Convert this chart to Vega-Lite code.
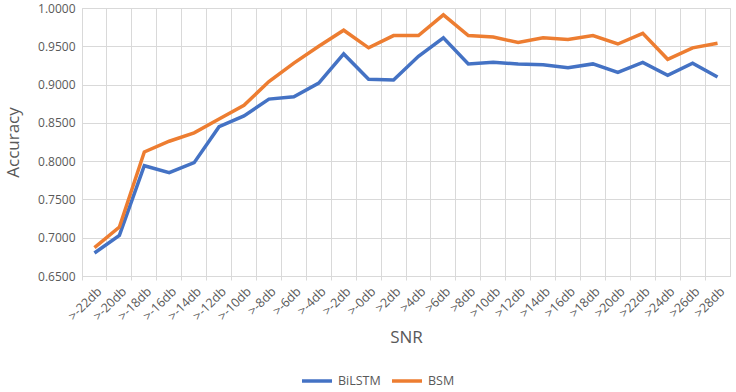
{
  "$schema": "https://vega.github.io/schema/vega-lite/v6.json",
  "width": 648,
  "height": 268,
  "autosize": {"type": "none"},
  "padding": {"left": 82, "top": 8, "right": 6, "bottom": 116},
  "background": "white",
  "config": {
    "font": "Open Sans",
    "view": {"stroke": "#d9d9d9", "strokeWidth": 1}
  },
  "datasets": {
    "acc": [
      {"snr": ">-22db", "BiLSTM": 0.680, "BSM": 0.687},
      {"snr": ">-20db", "BiLSTM": 0.703, "BSM": 0.714},
      {"snr": ">-18db", "BiLSTM": 0.794, "BSM": 0.812},
      {"snr": ">-16db", "BiLSTM": 0.785, "BSM": 0.826},
      {"snr": ">-14db", "BiLSTM": 0.798, "BSM": 0.837},
      {"snr": ">-12db", "BiLSTM": 0.845, "BSM": 0.855},
      {"snr": ">-10db", "BiLSTM": 0.859, "BSM": 0.873},
      {"snr": ">-8db", "BiLSTM": 0.881, "BSM": 0.904},
      {"snr": ">-6db", "BiLSTM": 0.884, "BSM": 0.928},
      {"snr": ">-4db", "BiLSTM": 0.902, "BSM": 0.950},
      {"snr": ">-2db", "BiLSTM": 0.940, "BSM": 0.971},
      {"snr": ">-0db", "BiLSTM": 0.907, "BSM": 0.948},
      {"snr": ">2db", "BiLSTM": 0.906, "BSM": 0.964},
      {"snr": ">4db", "BiLSTM": 0.937, "BSM": 0.964},
      {"snr": ">6db", "BiLSTM": 0.961, "BSM": 0.991},
      {"snr": ">8db", "BiLSTM": 0.927, "BSM": 0.964},
      {"snr": ">10db", "BiLSTM": 0.929, "BSM": 0.962},
      {"snr": ">12db", "BiLSTM": 0.927, "BSM": 0.955},
      {"snr": ">14db", "BiLSTM": 0.926, "BSM": 0.961},
      {"snr": ">16db", "BiLSTM": 0.922, "BSM": 0.959},
      {"snr": ">18db", "BiLSTM": 0.927, "BSM": 0.964},
      {"snr": ">20db", "BiLSTM": 0.916, "BSM": 0.953},
      {"snr": ">22db", "BiLSTM": 0.929, "BSM": 0.967},
      {"snr": ">24db", "BiLSTM": 0.912, "BSM": 0.933},
      {"snr": ">26db", "BiLSTM": 0.928, "BSM": 0.948},
      {"snr": ">28db", "BiLSTM": 0.910, "BSM": 0.954}
    ]
  },
  "data": {"name": "acc"},
  "transform": [{"fold": ["BiLSTM", "BSM"], "as": ["model", "accuracy"]}],
  "mark": {"type": "line", "strokeWidth": 3.5, "strokeJoin": "miter", "strokeCap": "butt"},
  "encoding": {
    "x": {
      "field": "snr",
      "type": "ordinal",
      "sort": null,
      "scale": {"type": "band", "paddingInner": 0, "paddingOuter": 0},
      "axis": {
        "title": "SNR",
        "titleFont": "Open Sans",
        "titleFontSize": 17,
        "titleFontWeight": "normal",
        "titleColor": "#595959",
        "titlePadding": 7,
        "bandPosition": 0,
        "labelOffset": 5,
        "labelAngle": -45,
        "labelAlign": "right",
        "labelBaseline": "middle",
        "labelFontSize": 12.5,
        "labelColor": "#595959",
        "labelPadding": 9,
        "grid": true,
        "gridColor": "#d9d9d9",
        "domainColor": "#d9d9d9",
        "tickColor": "#d9d9d9",
        "tickSize": 4
      }
    },
    "y": {
      "field": "accuracy",
      "type": "quantitative",
      "scale": {"domain": [0.65, 1.0], "zero": false, "nice": false},
      "axis": {
        "title": "Accuracy",
        "titleFontSize": 17,
        "titleFontWeight": "normal",
        "titleColor": "#595959",
        "titlePadding": 15,
        "values": [0.65, 0.7, 0.75, 0.8, 0.85, 0.9, 0.95, 1.0],
        "format": ".4f",
        "labelFontSize": 12,
        "labelColor": "#595959",
        "labelPadding": 7,
        "domain": false,
        "ticks": false,
        "gridColor": "#d9d9d9"
      }
    },
    "color": {
      "field": "model",
      "type": "nominal",
      "scale": {"domain": ["BiLSTM", "BSM"], "range": ["#4472C4", "#ED7D31"]},
      "legend": {
        "title": null,
        "orient": "none",
        "legendX": 218,
        "legendY": 356,
        "direction": "horizontal",
        "symbolType": "stroke",
        "symbolStrokeWidth": 3.5,
        "symbolSize": 900,
        "labelFontSize": 12.5,
        "labelColor": "#595959",
        "columnPadding": 4,
        "labelOffset": 4
      }
    }
  }
}
